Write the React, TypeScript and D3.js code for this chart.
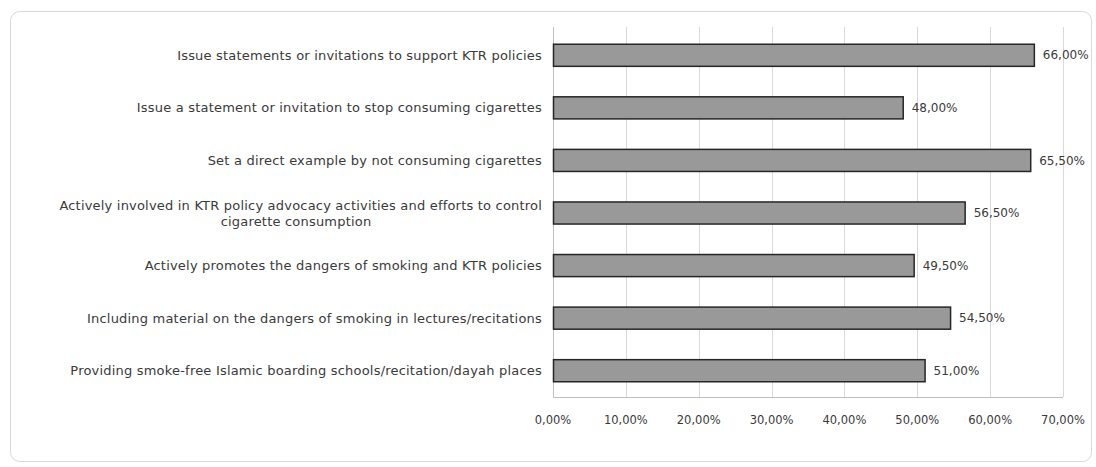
import React from "react";
import * as d3 from "d3";

const categories: string[][] = [
  ["Issue statements or invitations to support KTR policies"],
  ["Issue a statement or invitation to stop consuming cigarettes"],
  ["Set a direct example by not consuming cigarettes"],
  ["Actively involved in KTR policy advocacy activities and efforts to control", "cigarette consumption"],
  ["Actively promotes the dangers of smoking and KTR policies"],
  ["Including material on the dangers of smoking in lectures/recitations"],
  ["Providing smoke-free Islamic boarding schools/recitation/dayah places"],
];
const values: number[] = [66.0, 48.0, 65.5, 56.5, 49.5, 54.5, 51.0];
const xTicks: number[] = [0, 10, 20, 30, 40, 50, 60, 70];

const W = 1096;
const H = 467;
const plot = { left: 553, right: 1063, top: 29, bottom: 397 };
const FONT = "'DejaVu Sans', Verdana, sans-serif";
const fmt = (v: number) => v.toFixed(2).replace(".", ",") + "%";

export default function App() {
  const x = d3.scaleLinear().domain([0, 70]).range([plot.left, plot.right]);
  const y = d3
    .scaleBand<number>()
    .domain(d3.range(categories.length))
    .range([plot.top, plot.bottom])
    .paddingInner(0.58)
    .paddingOuter(0.29);
  const bw = y.bandwidth();
  const labelRight = 542;
  const lineH = 16;
  const catStyle = { fontFamily: FONT, fontSize: 13, letterSpacing: 0.2, fill: "#3a3a3a" } as const;

  return (
    <svg width={W} height={H} style={{ position: "absolute", left: 0, top: 0, background: "#fff" }}>
      <rect x={10.5} y={11.5} width={1081} height={450} rx={9} fill="#fff" stroke="#d9d9d9" strokeWidth={1} />
      {xTicks.map((t) => (
        <line key={"g" + t} x1={Math.round(x(t)) + 0.5} x2={Math.round(x(t)) + 0.5} y1={plot.top - 2} y2={plot.bottom}
          stroke={t === 0 ? "#bfbfbf" : "#d9d9d9"} strokeWidth={1} />
      ))}
      <line x1={plot.left} x2={plot.right} y1={plot.bottom + 0.5} y2={plot.bottom + 0.5} stroke="#bfbfbf" strokeWidth={1} />
      {values.map((v, i) => (
        <rect key={"b" + i} x={x(0) + 0.5} y={y(i)!} width={x(v) - x(0)} height={bw}
          fill="#999999" stroke="#262626" strokeWidth={1.5} />
      ))}
      {values.map((v, i) => (
        <text key={"v" + i} x={x(v) + 9} y={y(i)! + bw / 2} dy="0.35em" fontFamily={FONT} fontSize={12} fill="#3a3a3a">
          {fmt(v)}
        </text>
      ))}
      {categories.map((lines, i) => {
        const cy = y(i)! + bw / 2;
        const n = lines.length;
        if (n === 1) {
          return (
            <text key={"c" + i} x={labelRight} y={cy} dy="0.35em" textAnchor="end" {...catStyle}>
              {lines[0]}
            </text>
          );
        }
        return (
          <g key={"c" + i}>
            <text x={labelRight} y={cy - lineH / 2} dy="0.35em" textAnchor="end" {...catStyle}>
              {lines[0]}
            </text>
            <text x={296} y={cy + lineH / 2} dy="0.35em" textAnchor="middle" {...catStyle}>
              {lines[1]}
            </text>
          </g>
        );
      })}
      {xTicks.map((t) => (
        <text key={"t" + t} x={x(t)} y={420} dy="0.35em" textAnchor="middle" fontFamily={FONT} fontSize={11.5} fill="#3a3a3a">
          {fmt(t)}
        </text>
      ))}
    </svg>
  );
}
